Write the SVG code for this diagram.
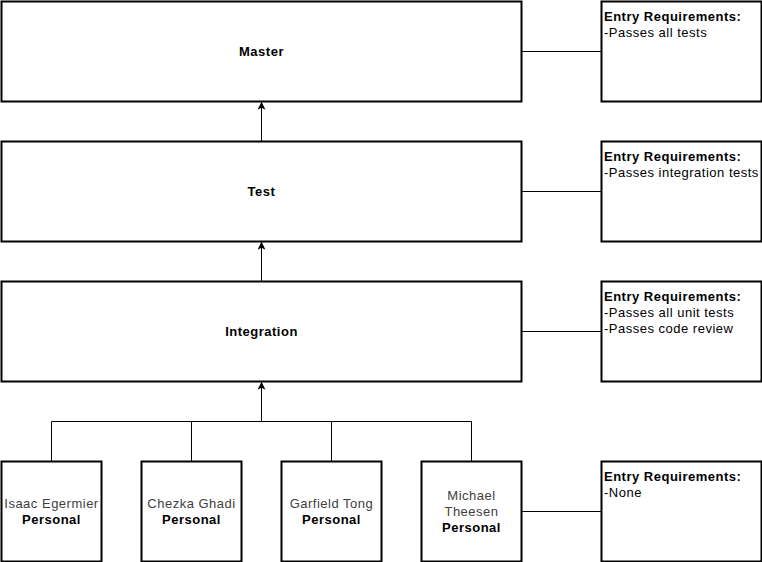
<svg xmlns="http://www.w3.org/2000/svg" width="762" height="562" viewBox="0 0 762 562">
<style>
.box{fill:#ffffff;stroke:#000000;stroke-width:2}
.ln{fill:none;stroke:#000000;stroke-width:1}
text{font-family:"Liberation Sans",Arial,sans-serif;font-size:13px;letter-spacing:0.5px;fill:#000000}
.t{font-weight:bold;text-anchor:middle}
.c{text-anchor:middle}
.nm{fill:#404040}
.b{font-weight:bold}
</style>
<defs>
<marker id="arr" viewBox="0 0 10 10" refX="9" refY="5" markerWidth="8" markerHeight="8" markerUnits="userSpaceOnUse" orient="auto">
<path d="M0,0 L10,5 L0,10 L2.5,5 Z" fill="#000000"/>
</marker>
</defs>
<g id="connectors">
<line class="ln" x1="521.5" y1="51.5" x2="601.5" y2="51.5"/>
<line class="ln" x1="521.5" y1="191.5" x2="601.5" y2="191.5"/>
<line class="ln" x1="521.5" y1="331.5" x2="601.5" y2="331.5"/>
<line class="ln" x1="521.5" y1="511.5" x2="601.5" y2="511.5"/>
<line class="ln" x1="261.5" y1="141" x2="261.5" y2="102.5" marker-end="url(#arr)"/>
<line class="ln" x1="261.5" y1="281" x2="261.5" y2="242.5" marker-end="url(#arr)"/>
<path class="ln" d="M51.5,461 V421.5 H471.5 V461 M191.5,461 V421.5 M331.5,461 V421.5"/>
<line class="ln" x1="261.5" y1="421.5" x2="261.5" y2="382.5" marker-end="url(#arr)"/>
</g>
<g id="master">
<rect class="box" x="1.5" y="1.5" width="520" height="100"/>
<text class="t" x="261.5" y="55.5">Master</text>
</g>
<g id="test">
<rect class="box" x="1.5" y="141.5" width="520" height="100"/>
<text class="t" x="261.5" y="195.5">Test</text>
</g>
<g id="integration">
<rect class="box" x="1.5" y="281.5" width="520" height="100"/>
<text class="t" x="261.5" y="335.5">Integration</text>
</g>
<g id="req-master">
<rect class="box" x="601.5" y="1.5" width="160" height="100"/>
<text x="604" y="21"><tspan class="b">Entry Requirements:</tspan><tspan x="604" dy="16">-Passes all tests</tspan></text>
</g>
<g id="req-test">
<rect class="box" x="601.5" y="141.5" width="160" height="100"/>
<text x="604" y="161"><tspan class="b">Entry Requirements:</tspan><tspan x="604" dy="16">-Passes integration tests</tspan></text>
</g>
<g id="req-integration">
<rect class="box" x="601.5" y="281.5" width="160" height="100"/>
<text x="604" y="301"><tspan class="b">Entry Requirements:</tspan><tspan x="604" dy="16">-Passes all unit tests</tspan><tspan x="604" dy="16">-Passes code review</tspan></text>
</g>
<g id="req-personal">
<rect class="box" x="601.5" y="461.5" width="160" height="100"/>
<text x="604" y="481"><tspan class="b">Entry Requirements:</tspan><tspan x="604" dy="16">-None</tspan></text>
</g>
<g id="isaac">
<rect class="box" x="1.5" y="461.5" width="100" height="100"/>
<text class="c nm" x="51.5" y="507.5">Isaac Egermier</text>
<text class="t" x="51.5" y="523.5">Personal</text>
</g>
<g id="chezka">
<rect class="box" x="141.5" y="461.5" width="100" height="100"/>
<text class="c nm" x="191.5" y="507.5">Chezka Ghadi</text>
<text class="t" x="191.5" y="523.5">Personal</text>
</g>
<g id="garfield">
<rect class="box" x="281.5" y="461.5" width="100" height="100"/>
<text class="c nm" x="331.5" y="507.5">Garfield Tong</text>
<text class="t" x="331.5" y="523.5">Personal</text>
</g>
<g id="michael">
<rect class="box" x="421.5" y="461.5" width="100" height="100"/>
<text class="c nm" x="471.5" y="499.5">Michael</text>
<text class="c nm" x="471.5" y="515.5">Theesen</text>
<text class="t" x="471.5" y="531.5">Personal</text>
</g>
</svg>
